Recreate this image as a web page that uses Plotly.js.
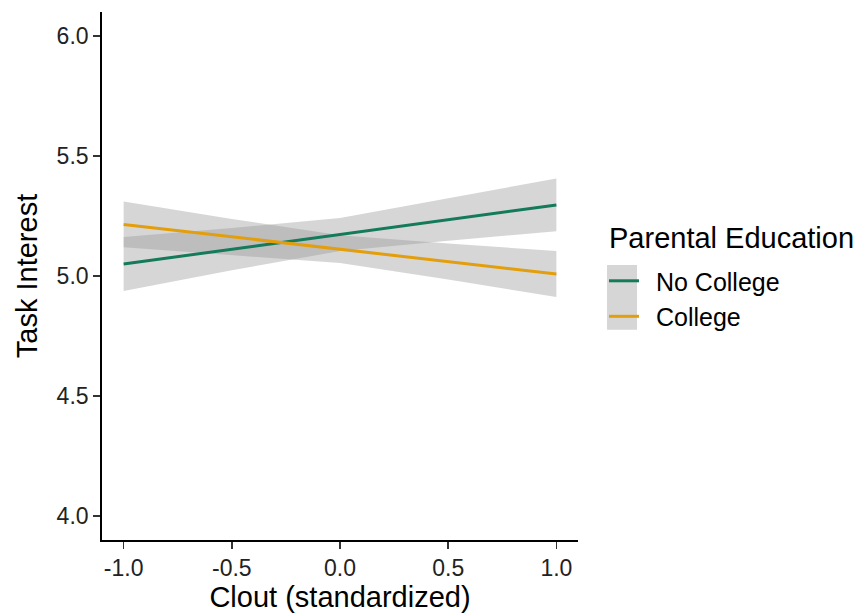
<!DOCTYPE html>
<html>
<head>
<meta charset="utf-8">
<script src="https://cdn.plot.ly/plotly-3.0.1.min.js"></script>
<style>html,body{margin:0;padding:0;background:#fff;}#chart{width:859px;height:613px;}</style>
</head>
<body>
<div id="chart"></div>
<script>
const clout = [-1, -0.5, 0, 0.5, 1];
const groups = ["No College", "College"];
const legendTitle = "Parental Education";
const noCollegeFit = [5.05, 5.112, 5.173, 5.235, 5.296];
const noCollegeLower = [4.937, 5.024, 5.104, 5.147, 5.186];
const noCollegeUpper = [5.163, 5.200, 5.242, 5.323, 5.406];
const collegeFit = [5.215, 5.163, 5.112, 5.060, 5.008];
const collegeLower = [5.120, 5.088, 5.054, 4.985, 4.912];
const collegeUpper = [5.310, 5.238, 5.170, 5.135, 5.104];
const yTicks = [4.0, 4.5, 5.0, 5.5, 6.0];
const xTicks = [-1.0, -0.5, 0.0, 0.5, 1.0];

const colors = ["#137a5a", "#e39e0b"];
const bandFill = "rgba(153,153,153,0.4)";
const font = "Liberation Sans, Arial, sans-serif";

function band(lower, upper) {
  return [
    {x: clout, y: lower, mode: "lines", line: {width: 0}, showlegend: false, hoverinfo: "skip"},
    {x: clout, y: upper, mode: "lines", line: {width: 0}, fill: "tonexty", fillcolor: bandFill, showlegend: false, hoverinfo: "skip"}
  ];
}

const pad = "\u00a0\u2009";
const traces = [
  ...band(noCollegeLower, noCollegeUpper),
  ...band(collegeLower, collegeUpper),
  {x: clout, y: noCollegeFit, mode: "lines", name: pad + groups[0], line: {color: colors[0], width: 3}},
  {x: clout, y: collegeFit, mode: "lines", name: pad + groups[1], line: {color: colors[1], width: 3}}
];

const layout = {
  width: 859, height: 613,
  margin: {l: 102, r: 281, t: 12, b: 73, autoexpand: false},
  paper_bgcolor: "#fff", plot_bgcolor: "#fff",
  font: {family: font, color: "#000"},
  xaxis: {
    range: [-1.1, 1.1], tickvals: xTicks, ticktext: xTicks.map(v => v.toFixed(1)),
    showgrid: false, zeroline: false, showline: true, linecolor: "#000", linewidth: 1.8,
    ticks: "outside", ticklen: 7, tickwidth: 1.5, tickcolor: "#333",
    tickfont: {size: 23, color: "#222"},
    title: {text: "Clout (standardized)", font: {size: 29, color: "#000"}, standoff: 2}
  },
  yaxis: {
    range: [3.9, 6.1], tickvals: yTicks, ticktext: yTicks.map(v => v.toFixed(1)),
    showgrid: false, zeroline: false, showline: true, linecolor: "#000", linewidth: 1.8,
    ticks: "outside", ticklen: 7, tickwidth: 1.5, tickcolor: "#333",
    tickfont: {size: 23, color: "#222"},
    title: {text: "Task Interest", font: {size: 29, color: "#000"}, standoff: 10}
  },
  legend: {
    x: 1.0546, xanchor: "left", y: 0.534, yanchor: "top",
    font: {size: 25, color: "#000"},
    bgcolor: "rgba(0,0,0,0)", tracegroupgap: 0, traceorder: "normal", itemwidth: 30
  },
  annotations: [
    {text: legendTitle, xref: "paper", yref: "paper", x: 1.061, y: 0.572, xanchor: "left", yanchor: "middle",
     showarrow: false, font: {size: 29, color: "#000"}}
  ],
  shapes: [
    {type: "rect", xref: "paper", yref: "paper", x0: 1.061, x1: 1.124, y0: 0.398, y1: 0.521,
     fillcolor: "#d6d6d6", line: {width: 0}, layer: "below"}
  ],
  showlegend: true
};

Plotly.newPlot("chart", traces, layout, {displayModeBar: false, staticPlot: true});
</script>
</body>
</html>
